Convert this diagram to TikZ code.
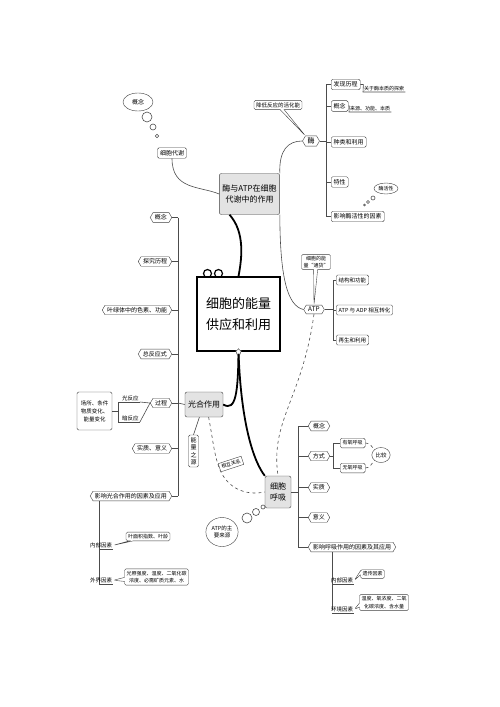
\documentclass[tikz,border=0pt]{standalone}
\usepackage{fontspec}
\setmainfont{Noto Sans CJK SC}
\usetikzlibrary{shapes.symbols,shapes.geometric,shapes.callouts}

\begin{document}
\begin{tikzpicture}[x=1pt,y=-1pt,
    hexbox/.style={draw=black!75,fill=white,signal,signal to=west and east,signal pointer angle=120,inner sep=2pt,font=\fontsize{6}{7}\selectfont},
    rbox/.style={draw=black!75,fill=white,rounded corners=1.5pt,inner sep=2.5pt,font=\fontsize{6}{7}\selectfont},
    gbox/.style={draw=black!75,fill=gray!22,rounded corners=2pt,inner sep=3pt,align=center,font=\fontsize{8}{11}\selectfont},
    tip/.style={rectangle callout,draw=black!75,fill=white,rounded corners=1.5pt,callout pointer width=4pt,inner sep=2pt,align=center,font=\fontsize{5}{6.5}\selectfont},
    bubble/.style={ellipse,draw=black!75,fill=white,inner sep=1pt,align=center,font=\fontsize{5.5}{7}\selectfont},
    note/.style={inner sep=1pt,font=\fontsize{5}{6}\selectfont},
    link/.style={draw=black!70,line width=0.6pt},
    trunk/.style={draw=black,line width=1.8pt}]
  \useasboundingbox (0,0) rectangle (500,707);

  % top: enzyme and ATP
  \node[rbox] (xdx) at (172,153) {细胞代谢};
  \node[bubble,minimum width=30pt,minimum height=18pt,font=\fontsize{6}{7}\selectfont] (xdxgn) at (138,102) {概念};
  \draw[link,fill=white] (147,117) circle (5) (153,127) circle (3) (157,136) circle (1.8);
  \node[gbox,minimum width=60pt,minimum height=41pt] (enzatp) at (249.5,194) {酶与ATP在细胞\\代谢中的作用};
  \node[hexbox,font=\fontsize{7}{8}\selectfont] (mei) at (311,141) {酶};
  \node[tip,font=\fontsize{5.5}{7}\selectfont,callout absolute pointer={(mei.north west)}] (hhn) at (278,105) {降低反应的活化能};
  \draw[link] (xdx.south) .. controls (172,190) and (200,186) .. (enzatp.west);
  \draw[link] (enzatp.north east) .. controls (279,150) and (288,141) .. (mei.west);

  \node[rbox,anchor=west] (m1) at (331,84.5) {发现历程};
  \node[rbox,anchor=west] (m2) at (331,106) {概念};
  \node[rbox,anchor=west] (m3) at (331,142) {种类和利用};
  \node[rbox,anchor=west] (m4) at (331,182) {特性};
  \node[rbox,anchor=west] (m5) at (331,216.5) {影响酶活性的因素};
  \draw[link] (mei.east) -- ([xshift=-5pt]m3.west |- mei.east);
  \draw[link] ([xshift=-5pt]m1.west) -- ([xshift=-5pt]m5.west);
  \foreach \n in {m1,m2,m3,m4,m5} \draw[link] (\n.west) -- ++(-5,0);
  \node[note,anchor=south west] (m1n) at (363,92) {关于酶本质的探索};
  \node[note,anchor=south west] (m2n) at (349,112) {来源、功能、本质};
  \draw[link] (m1.east) -- ++(3,0) -- (m1n.south west) -- (m1n.south east);
  \draw[link] (m2.east) -- ++(1,0) -- (m2n.south west) -- (m2n.south east);
  \node[bubble,minimum width=22pt,minimum height=11pt,font=\fontsize{5}{6}\selectfont] (mhx) at (386,188.5) {酶活性};
  \draw[link,fill=white] (373,198) circle (2) (368,202) circle (1.5) (364.5,205) circle (1);

  % center
  \draw[line width=1.2pt,fill=white] (207.5,273.5) circle (4) (218.5,273.5) circle (4);
  \node[draw,line width=1.5pt,fill=white,minimum width=83pt,minimum height=74pt,align=center,font=\fontsize{13}{21}\selectfont] (root) at (238.5,314) {细胞的能量\\供应和利用};
  \draw[trunk] (enzatp.226) .. controls (245,232) and (242,258) .. (root.north);

  % ATP
  \node[hexbox,font=\fontsize{6.5}{7}\selectfont] (atp) at (314,309.5) {ATP};
  \node[tip,callout absolute pointer={(atp.north)}] (hb) at (316,262) {细胞的能\\量“通货”};
  \draw[link] (enzatp.south east) .. controls (280,280) and (288,306) .. (atp.west);
  \node[rbox,anchor=west,font=\fontsize{5.5}{7}\selectfont] (a1) at (336,280) {结构和功能};
  \node[rbox,anchor=west,font=\fontsize{5.5}{7}\selectfont] (a2) at (336,310) {ATP 与 ADP 相互转化};
  \node[rbox,anchor=west,font=\fontsize{5.5}{7}\selectfont] (a3) at (336,340) {再生和利用};
  \draw[link] (atp.east) -- ([xshift=-3pt]a2.west |- atp.east);
  \draw[link] ([xshift=-3pt]a1.west) -- ([xshift=-3pt]a3.west);
  \foreach \n in {a1,a2,a3} \draw[link] (\n.west) -- ++(-3,0);

  % photosynthesis
  \node[gbox,minimum width=38pt,minimum height=25pt] (gh) at (204,404.5) {光合作用};
  \node[rbox,align=center,text width=6pt,inner sep=2pt,font=\fontsize{6}{7.5}\selectfont] (nlzy) at (193.5,451) {能\\量\\之\\源};
  \draw[link] (gh.250) -- (nlzy.north);
  \draw[trunk] (root.south) .. controls (238,392) and (236,412) .. (gh.east);

  \node[hexbox,anchor=east] (g1) at (172,217.5) {概念};
  \node[hexbox,anchor=east] (g2) at (172,261.5) {探究历程};
  \node[hexbox,anchor=east] (g3) at (172,310) {叶绿体中的色素、功能};
  \node[hexbox,anchor=east] (g4) at (172,354) {总反应式};
  \node[hexbox,anchor=east] (g5) at (172,403) {过程};
  \node[hexbox,anchor=east] (g6) at (172,448.5) {实质、意义};
  \node[hexbox,anchor=east] (g7) at (172,496) {影响光合作用的因素及应用};
  \draw[link] ([xshift=6pt]g1.east) -- ([xshift=6pt]g7.east);
  \foreach \n in {g1,g2,g3,g4,g5,g6,g7} \draw[link] (\n.east) -- ++(6,0);
  \draw[link] (gh.west) -- ([xshift=6pt]g5.east);

  \node[note,anchor=south west,font=\fontsize{5.5}{6}\selectfont] (gqa) at (121,402) {光反应};
  \node[note,anchor=south west,font=\fontsize{5.5}{6}\selectfont] (gqb) at (121,422) {暗反应};
  \node[rbox,align=center,minimum width=35pt,minimum height=38pt,inner sep=1pt,font=\fontsize{5.5}{8}\selectfont] (cs) at (94.5,411) {场所、条件\\物质变化、\\能量变化};
  \draw[link] (cs.east) -- (118,411);
  \draw[link] (gqa.south east) -- (118,402) -- (118,422) -- (gqb.south east);
  \draw[link] (g5.west) -- (gqa.south east);
  \draw[link] (g5.west) -- (gqb.south east);

  \coordinate (gs) at ([xshift=6pt]g7.south west);
  \draw[link] (gs) -- ++(0,84);
  \node[note,anchor=south west,font=\fontsize{5.5}{6}\selectfont] (gn) at (89,549) {内部因素};
  \node[note,anchor=south west,font=\fontsize{5.5}{6}\selectfont] (gw) at (89,584) {外界因素};
  \draw[link] (gs |- gn.south) -- (gn.south east);
  \draw[link] (gs |- gw.south) -- (gw.south east);
  \node[tip,callout absolute pointer={(gn.east)}] (gnt) at (148,536.5) {叶面积指数、叶龄};
  \node[tip,callout absolute pointer={(gw.east)},font=\fontsize{5}{7.5}\selectfont] (gwt) at (156.5,577) {光照强度、温度、二氧化碳\\浓度、必需矿质元素、水};

  % respiration
  \node[gbox,minimum width=26pt,minimum height=32pt] (hx) at (278,492) {细胞\\呼吸};
  \draw[trunk] (root.south) .. controls (241,425) and (254,462) .. (hx.north west);
  \node[star,draw=black!75,fill=white,minimum size=6pt,inner sep=0pt] (rootpin) at (root.south) {};
  \draw[link,dashed] (atp.south) .. controls (302,400) and (270,420) .. (hx.north);
  \draw[link,dashed] (gh.290) .. controls (213,440) and (214,455) .. (220,470) .. controls (228,488) and (245,496) .. (hx.west);
  \node[draw=black!75,fill=white,rotate=18,inner sep=2pt,font=\fontsize{5}{6}\selectfont] (hxgx) at (231,464) {相互关系};
  \node[bubble,minimum width=32pt,minimum height=29pt] (atply) at (222,532) {ATP的主\\要来源};
  \draw[link,fill=white] (247,518) circle (5) (256,512) circle (3.5) (263,507) circle (2);

  \node[hexbox,anchor=west] (h1) at (308,426) {概念};
  \node[hexbox,anchor=west] (h2) at (308,456) {方式};
  \node[hexbox,anchor=west] (h3) at (308,487.5) {实质};
  \node[hexbox,anchor=west] (h4) at (308,517.5) {意义};
  \node[hexbox,anchor=west] (h5) at (308,547) {影响呼吸作用的因素及其应用};
  \draw[link] ([xshift=-10pt]h1.west) -- ([xshift=-10pt]h5.west);
  \foreach \n in {h1,h2,h3,h4,h5} \draw[link] (\n.west) -- ++(-10,0);
  \draw[link] (hx.east) -- ([xshift=-10pt]h3.west |- hx.east);

  \node[rbox,anchor=west,font=\fontsize{5}{6}\selectfont] (s1) at (340,443) {有氧呼吸};
  \node[rbox,anchor=west,font=\fontsize{5}{6}\selectfont] (s2) at (340,468) {无氧呼吸};
  \draw[link] (h2.east) -- ([xshift=-7pt]s1.west |- h2.east);
  \draw[link] ([xshift=-7pt]s1.west) -- ([xshift=-7pt]s2.west);
  \foreach \n in {s1,s2} \draw[link] (\n.west) -- ++(-7,0);
  \node[bubble,minimum width=18pt,minimum height=15pt,font=\fontsize{5.5}{6}\selectfont] (bj) at (381,455) {比较};
  \draw[link,dashed] (s1.east) to[out=0,in=130] (bj.north west);
  \draw[link,dashed] (s2.east) to[out=0,in=230] (bj.south west);

  \coordinate (hs) at ([xshift=21pt]h5.south west);
  \draw[link] (hs) -- ++(0,58);
  \node[note,anchor=south west,font=\fontsize{5.5}{6}\selectfont] (hn) at (330,584) {内部因素};
  \node[note,anchor=south west,font=\fontsize{5.5}{6}\selectfont] (hw) at (330,613) {环境因素};
  \draw[link] (hs |- hn.south) -- (hn.south east);
  \draw[link] (hs |- hw.south) -- (hw.south east);
  \node[tip,callout absolute pointer={(hn.east)}] (hnt) at (372.5,574) {遗传因素};
  \node[tip,callout absolute pointer={(hw.east)},font=\fontsize{5}{7.5}\selectfont] (hwt) at (384,602.5) {温度、氧浓度、二氧\\化碳浓度、含水量};
\end{tikzpicture}
\end{document}
